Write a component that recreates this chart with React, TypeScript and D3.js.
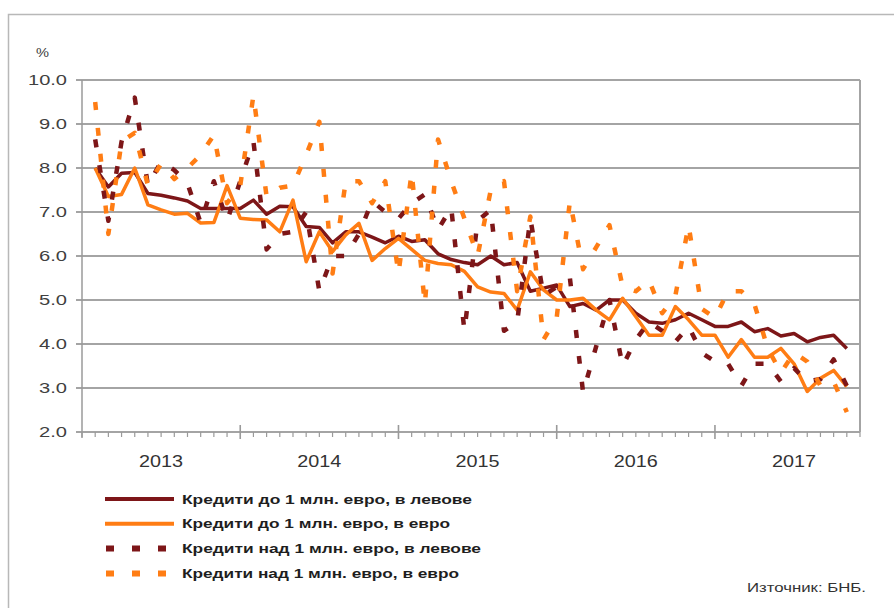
import * as d3 from "d3";

// months run Feb 2013 .. Nov 2017, one value per month
const years = ["2013", "2014", "2015", "2016", "2017"];
const yTicks = [2, 3, 4, 5, 6, 7, 8, 9, 10];

const levaUpTo1m = [
  8.0, 7.57, 7.88, 7.9, 7.42, 7.38, 7.32, 7.25, 7.08, 7.08, 7.08, 7.08, 7.27, 6.95, 7.13, 7.12,
  6.67, 6.65, 6.3, 6.55, 6.55, 6.43, 6.3, 6.45, 6.33, 6.37, 6.05, 5.92, 5.85, 5.8, 6.0, 5.8,
  5.85, 5.2, 5.27, 5.34, 4.85, 4.92, 4.77, 5.0, 5.0, 4.7, 4.5, 4.47, 4.55, 4.7, 4.55, 4.4,
  4.4, 4.5, 4.28, 4.35, 4.18, 4.24, 4.05, 4.15, 4.2, 3.9,
];
const euroUpTo1m = [
  8.0, 7.35, 7.4, 8.0, 7.16, 7.05, 6.95, 6.97, 6.75, 6.76, 7.6, 6.86, 6.83, 6.82, 6.55, 7.27,
  5.87, 6.55, 6.1, 6.48, 6.74, 5.9, 6.17, 6.4, 6.15, 5.9, 5.83, 5.8, 5.65, 5.3, 5.18, 5.15,
  4.77, 5.64, 5.23, 5.0, 5.0, 5.04, 4.77, 4.55, 5.04, 4.62, 4.2, 4.2, 4.85, 4.55, 4.2, 4.2,
  3.7, 4.1, 3.7, 3.7, 3.9, 3.55, 2.92, 3.22, 3.4, 3.03,
];
const levaOver1m = [
  8.65, 6.8, 8.6, 9.6, 7.6, 8.15, 7.95, 7.65, 6.75, 7.7, 6.8, 7.7, 8.6, 6.15, 6.5, 6.55,
  7.0, 5.2, 6.0, 6.0, 6.5, 7.25, 7.0, 6.85, 7.2, 7.4, 6.6, 7.1, 4.3, 6.8, 7.05, 4.3,
  4.5, 6.85, 5.1, 5.3, 5.5, 2.9, 3.95, 5.0, 3.5, 4.1, 4.5, 4.3, 4.05, 4.4, 3.8, 3.6,
  3.55, 3.05, 3.55, 3.55, 3.15, 3.45, 3.15, 3.2, 3.65, 3.05,
];
const euroOver1m = [
  9.5, 6.5, 8.6, 8.8, 7.6, 8.1, 7.75, 8.0, 8.3, 8.75, 7.2, 7.6, 9.65, 7.35, 7.55, 7.6,
  8.3, 9.05, 5.6, 7.7, 7.7, 7.2, 7.7, 5.6, 7.9, 4.9, 8.65, 7.7, 6.85, 6.0, 7.5, 7.7,
  5.2, 6.9, 4.1, 4.6, 7.25, 5.7, 6.2, 6.7, 5.3, 5.2, 5.45, 4.7, 5.1, 6.7, 4.8, 4.6,
  5.2, 5.2, 4.9, 3.9, 3.35, 3.8, 3.6, 3.05, 3.15, 2.45,
];

const seriesNames = [
  "Кредити до 1 млн. евро, в левове",
  "Кредити до 1 млн. евро, в евро",
  "Кредити над 1 млн. евро, в левове",
  "Кредити над 1 млн. евро, в евро",
];

const DARK = "#7d1618";
const ORANGE = "#ff7d14";
const FONT = "'Liberation Sans', Arial, sans-serif";

export default function App() {
  const width = 894;
  const height = 608;
  const x = d3.scaleLinear().domain([0, 59]).range([82, 860]);
  const y = d3.scaleLinear().domain([2, 10]).range([432, 80]);

  const line = d3
    .line<number>()
    .x((_, i) => x(i + 1))
    .y((d) => y(d));

  const series = [
    { name: seriesNames[0], data: levaUpTo1m, color: DARK, dash: null, w: 3.5 },
    { name: seriesNames[1], data: euroUpTo1m, color: ORANGE, dash: null, w: 3.5 },
    { name: seriesNames[2], data: levaOver1m, color: DARK, dash: "8,18", w: 4.5 },
    { name: seriesNames[3], data: euroOver1m, color: ORANGE, dash: "8,18", w: 4.5 },
  ];

  const legendW = [290, 268, 299, 277];
  const months = d3.range(0, 60);

  return (
    <div style={{ position: "absolute", left: 0, top: 0 }}>
      <svg width={width} height={height} style={{ display: "block", background: "#fff" }}>
        <rect x={8.5} y={14.5} width={900} height={700} fill="none" stroke="#b8b8b8" strokeWidth={1.5} />

        {/* grid */}
        {yTicks.map((t) => (
          <line key={t} x1={76} x2={860} y1={y(t)} y2={y(t)} stroke="#a4a4a4" strokeWidth={1.8} />
        ))}
        <line x1={82} x2={82} y1={80} y2={438} stroke="#9a9a9a" strokeWidth={1.5} />
        <line x1={860} x2={860} y1={80} y2={432} stroke="#a4a4a4" strokeWidth={2} />

        {/* x ticks */}
        {months.map((m) => {
          const major = m % 12 === 0 && m > 0;
          return (
            <line
              key={m}
              x1={x(m)}
              x2={x(m)}
              y1={major ? 425 : 432}
              y2={major ? 439 : 437}
              stroke="#9a9a9a"
              strokeWidth={major ? 1.6 : 1.2}
            />
          );
        })}

        {/* y labels */}
        {yTicks.map((t) => (
          <text
            key={t}
            x={67}
            y={y(t)}
            dy="0.36em"
            textAnchor="end"
            fontFamily={FONT}
            fontSize={15}
            fill="#404040"
            textLength={t === 10 ? 39 : 28}
            lengthAdjust="spacingAndGlyphs"
          >
            {t.toFixed(1)}
          </text>
        ))}
        <text x={36} y={57} fontFamily={FONT} fontSize={12} fill="#404040" textLength={13} lengthAdjust="spacingAndGlyphs">
          %
        </text>

        {/* year labels */}
        {years.map((yr, i) => (
          <text
            key={yr}
            x={x(6 + i * 12)}
            y={467}
            textAnchor="middle"
            fontFamily={FONT}
            fontSize={16}
            fill="#333"
            textLength={44}
            lengthAdjust="spacingAndGlyphs"
          >
            {yr}
          </text>
        ))}

        {/* series */}
        {series.map((s) => (
          <path
            key={s.name}
            d={line(s.data) ?? ""}
            fill="none"
            stroke={s.color}
            strokeWidth={s.w}
            strokeDasharray={s.dash ?? undefined}
            strokeLinejoin="round"
          />
        ))}

        {/* legend */}
        {series.map((s, i) => {
          const ly = 499 + i * 24.8;
          return (
            <g key={s.name}>
              <line
                x1={s.dash ? 106 : 105}
                x2={174}
                y1={ly}
                y2={ly}
                stroke={s.color}
                strokeWidth={s.dash ? 6 : 4}
                strokeDasharray={s.dash ?? undefined}
              />
              <text
                x={182}
                y={ly}
                dy="0.36em"
                fontFamily={FONT}
                fontSize={13}
                fontWeight="bold"
                fill="#1e1e1e"
                textLength={legendW[i]}
                lengthAdjust="spacingAndGlyphs"
              >
                {s.name}
              </text>
            </g>
          );
        })}

        <text
          x={866}
          y={587}
          dy="0.36em"
          textAnchor="end"
          fontFamily={FONT}
          fontSize={13}
          fill="#333"
          textLength={119}
          lengthAdjust="spacingAndGlyphs"
        >
          Източник: БНБ.
        </text>
      </svg>
    </div>
  );
}
